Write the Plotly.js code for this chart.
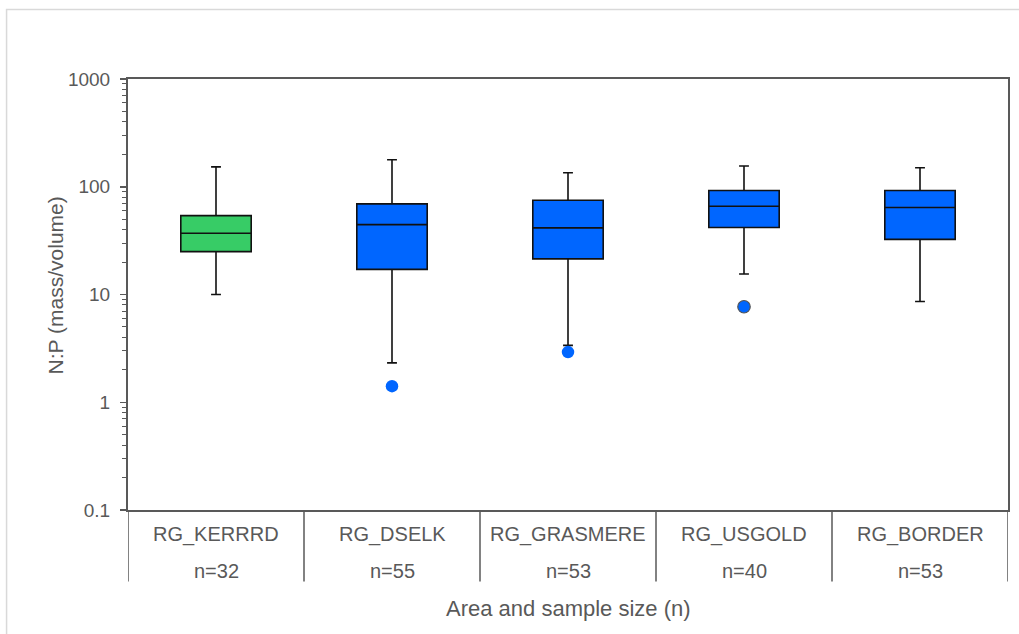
<!DOCTYPE html>
<html>
<head>
<meta charset="utf-8">
<script src="https://cdn.plot.ly/plotly-3.0.1.min.js"></script>
<style>html,body{margin:0;padding:0;background:#fff;}#chart{width:1019px;height:634px;}</style>
</head>
<body>
<div id="chart"></div>
<script>
// Data
const areas = ["RG_KERRRD", "RG_DSELK", "RG_GRASMERE", "RG_USGOLD", "RG_BORDER"];
const sampleSizes = ["n=32", "n=55", "n=53", "n=40", "n=53"];
const lowerWhisker = [10.0, 2.32, 3.37, 15.5, 8.6];
const q1Values = [25.0, 17.1, 21.4, 41.8, 32.5];
const medianValues = [37.0, 44.5, 41.5, 65.9, 64.1];
const q3Values = [54.0, 69.3, 75.0, 92.2, 92.2];
const upperWhisker = [153, 178, 135, 156, 150];
const boxColors = ["#37CC66", "#0066FF", "#0066FF", "#0066FF", "#0066FF"];
const outlierAreas = ["RG_DSELK", "RG_GRASMERE", "RG_USGOLD"];
const outlierValues = [1.41, 2.92, 7.7];
const outlierEdge = [0, 0, 1.2];

const gray = "#595959";
const font = "Liberation Sans, Arial, sans-serif";

const traces = areas.map((a, i) => ({
  type: "box",
  name: a,
  x: [a],
  q1: [q1Values[i]],
  median: [medianValues[i]],
  q3: [q3Values[i]],
  lowerfence: [lowerWhisker[i]],
  upperfence: [upperWhisker[i]],
  width: 0.4,
  fillcolor: boxColors[i],
  line: {color: "#111111", width: 1.6},
  whiskerwidth: 0.14,
  boxpoints: false,
  showlegend: false,
  hoverinfo: "skip"
}));

traces.push({
  type: "scatter",
  mode: "markers",
  x: outlierAreas,
  y: outlierValues,
  marker: {color: "#0066FF", size: 12.5, line: {color: "#555555", width: outlierEdge}},
  showlegend: false,
  hoverinfo: "skip"
});

const shapes = [];
// outer chart frame
shapes.push({type: "rect", xref: "paper", yref: "paper", x0: -0.138, x1: 1.5, y0: -1, y1: 1.161,
  line: {color: "#D9D9D9", width: 1.5}, layer: "below"});
// category dividers
for (let k = 0; k <= areas.length; k++) {
  shapes.push({type: "line", xref: "x", yref: "paper", x0: k - 0.5, x1: k - 0.5, y0: 0, y1: -0.166,
    line: {color: gray, width: 1.5}});
}

const annotations = [];
areas.forEach((a, i) => {
  annotations.push({xref: "x", yref: "paper", x: a, y: -0.0557, text: a, showarrow: false,
    xanchor: "center", yanchor: "middle", font: {family: font, size: 20, color: gray}});
  annotations.push({xref: "x", yref: "paper", x: a, y: -0.141, text: sampleSizes[i], showarrow: false,
    xanchor: "center", yanchor: "middle", font: {family: font, size: 20, color: gray}});
});
annotations.push({xref: "paper", yref: "paper", x: 0.5, y: -0.2274, text: "Area and sample size (n)",
  showarrow: false, xanchor: "center", yanchor: "middle", font: {family: font, size: 22, color: gray}});
annotations.push({xref: "paper", yref: "paper", x: -0.083, y: 0.521, text: "N:P (mass/volume)",
  textangle: -90, showarrow: false, xanchor: "center", yanchor: "middle", font: {family: font, size: 21, color: gray}});

const layout = {
  width: 1019, height: 634,
  margin: {l: 128, r: 11, t: 79, b: 124},
  paper_bgcolor: "#ffffff", plot_bgcolor: "#ffffff",
  boxmode: "overlay",
  showlegend: false,
  font: {family: font, color: gray},
  xaxis: {
    type: "category",
    categoryorder: "array", categoryarray: areas,
    range: [-0.5, areas.length - 0.5],
    showticklabels: false, ticks: "",
    showgrid: false, zeroline: false,
    showline: true, linecolor: gray, linewidth: 2, mirror: true
  },
  yaxis: {
    type: "log",
    range: [-1, 3],
    dtick: 1,
    tickvals: [0.1, 1, 10, 100, 1000],
    ticktext: ["0.1", "1", "10", "100", "1000"],
    ticks: "outside", ticklen: 6, tickwidth: 1.5, tickcolor: gray,
    minor: {dtick: "D1", ticks: "outside", ticklen: 4, tickwidth: 1, tickcolor: gray, showgrid: false},
    ticklabelstandoff: 6,
    tickfont: {family: font, size: 19, color: gray},
    showgrid: false, zeroline: false,
    showline: true, linecolor: gray, linewidth: 2, mirror: true
  },
  shapes: shapes,
  annotations: annotations
};

Plotly.newPlot("chart", traces, layout, {displayModeBar: false, staticPlot: true});
</script>
</body>
</html>
